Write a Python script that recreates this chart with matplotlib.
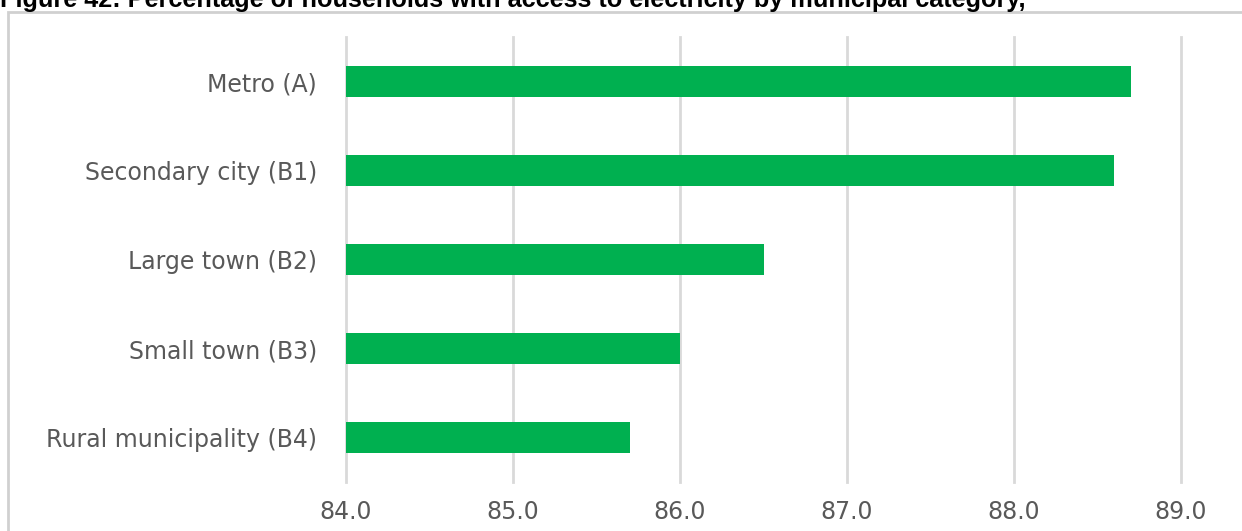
import matplotlib.pyplot as plt
from matplotlib.patches import Rectangle

categories = ["Metro (A)", "Secondary city (B1)", "Large town (B2)",
              "Small town (B3)", "Rural municipality (B4)"]
values = [88.7, 88.6, 86.5, 86.0, 85.7]
xticks = [84.0, 85.0, 86.0, 87.0, 88.0, 89.0]
title = "Figure 42: Percentage of households with access to electricity by municipal category,"

W, H = 1242, 531
fig = plt.figure(figsize=(W / 100, H / 100), dpi=100)

# outer frame of the embedded chart
fig.patches.append(Rectangle((8 / W, -0.1), 1.1, (H - 12) / H + 0.1,
                             transform=fig.transFigure, fill=False,
                             edgecolor="#d0d0d0", linewidth=2))

# title, cut off at the top like the source page
fig.text(0 / W, 1 - 7 / H, title, fontsize=18.2, fontweight="bold",
         family="Liberation Sans", color="black", va="baseline", ha="left")

ax = fig.add_axes([346 / W, 1 - 482 / H, (1181 - 346) / W, (482 - 37) / H])
y = list(range(len(categories)))
ax.barh(y, [v - 84.0 for v in values], left=84.0, height=0.35,
        color="#00B050", zorder=3)
ax.set_xlim(84.0, 89.0)
ax.set_ylim(4.5, -0.5)
ax.set_xticks(xticks)
ax.set_xticklabels([f"{t:.1f}" for t in xticks])
ax.set_yticks(y)
ax.set_yticklabels(categories)
ax.xaxis.grid(True, color="#d9d9d9", linewidth=2, zorder=0)
for gl in ax.get_xgridlines():
    gl.set_clip_on(False)
for s in ax.spines.values():
    s.set_visible(False)
ax.tick_params(length=0, labelsize=17, labelcolor="#595959")
ax.tick_params(axis="y", pad=21)
ax.tick_params(axis="x", pad=13)
for lab in ax.get_xticklabels() + ax.get_yticklabels():
    lab.set_family("DejaVu Sans")

fig.savefig("out.png", dpi=100)
